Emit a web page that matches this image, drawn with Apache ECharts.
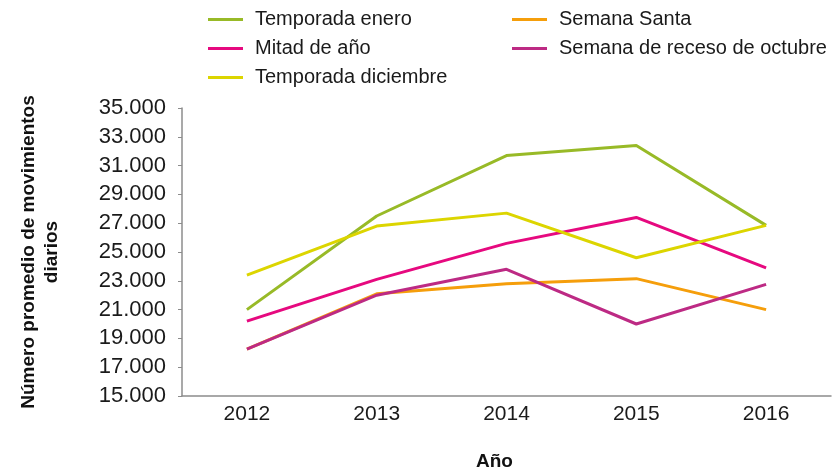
<!DOCTYPE html>
<html>
<head>
<meta charset="utf-8">
<script src="https://cdn.jsdelivr.net/npm/echarts@6/dist/echarts.min.js"></script>
<style>
  html, body { margin: 0; padding: 0; background: #fff; }
  #chart { width: 835px; height: 471px; }
</style>
</head>
<body>
<div id="chart"></div>
<script>
const years = ["2012", "2013", "2014", "2015", "2016"];

const temporadaEnero = [21000, 27500, 31700, 32400, 26850];
const semanaSanta = [18250, 22100, 22800, 23150, 21000];
const mitadDeAno = [20200, 23100, 25600, 27400, 23900];
const recesoOctubre = [18250, 22000, 23800, 20000, 22750];
const temporadaDiciembre = [23400, 26800, 27700, 24600, 26850];

const yMin = 15000;
const yMax = 35000;
const yStep = 2000;

const font = '"Liberation Sans", "DejaVu Sans", sans-serif';

function lineSeries(name, data, color) {
  return {
    type: "line",
    name: name,
    data: data,
    symbol: "none",
    lineStyle: { color: color, width: 3 },
    itemStyle: { color: color },
  };
}

const legendBase = {
  orient: "vertical",
  top: 4,
  icon: "rect",
  itemWidth: 35,
  itemHeight: 3,
  itemGap: 8,
  textStyle: {
    fontSize: 20,
    color: "#1a1a1a",
    lineHeight: 21,
    padding: [0, 0, 0, 7],
  },
};

const chart = echarts.init(document.getElementById("chart"), null, {
  renderer: "canvas",
});

chart.setOption({
  animation: false,
  textStyle: { fontFamily: font },
  grid: {
    left: 182,
    right: 4,
    top: 108,
    bottom: 75,
    outerBoundsMode: "none",
  },
  legend: [
    Object.assign({}, legendBase, {
      left: 203,
      data: ["Temporada enero", "Mitad de año", "Temporada diciembre"],
    }),
    Object.assign({}, legendBase, {
      left: 507,
      data: ["Semana Santa", "Semana de receso de octubre"],
    }),
  ],
  xAxis: {
    type: "category",
    data: years,
    name: "Año",
    nameLocation: "middle",
    nameGap: 56,
    nameTextStyle: {
      fontSize: 19,
      fontWeight: "bold",
      color: "#111",
      padding: [0, 24, 0, 0],
    },
    axisLine: { lineStyle: { color: "#8c8c8c", width: 1.5 } },
    axisTick: { length: 5, lineStyle: { color: "#8c8c8c" } },
    axisLabel: { fontSize: 21, color: "#1a1a1a", margin: 8 },
  },
  yAxis: {
    type: "value",
    min: yMin,
    max: yMax,
    interval: yStep,
    name: "Número promedio de movimientos\ndiarios",
    nameLocation: "middle",
    nameGap: 119,
    nameTextStyle: {
      fontSize: 19,
      fontWeight: "bold",
      color: "#111",
      lineHeight: 23,
      align: "center",
    },
    splitLine: { show: false },
    axisLine: { show: true, lineStyle: { color: "#8c8c8c", width: 1.5 } },
    axisTick: { show: true, length: 4, lineStyle: { color: "#8c8c8c" } },
    axisLabel: {
      fontSize: 22,
      color: "#1a1a1a",
      margin: 16,
      formatter: (v) => v.toLocaleString("de-DE"),
    },
  },
  series: [
    lineSeries("Temporada enero", temporadaEnero, "#98ba27"),
    lineSeries("Semana Santa", semanaSanta, "#f59e0b"),
    lineSeries("Mitad de año", mitadDeAno, "#e6097f"),
    lineSeries("Semana de receso de octubre", recesoOctubre, "#bd2a84"),
    lineSeries("Temporada diciembre", temporadaDiciembre, "#dcd500"),
  ],
});
</script>
</body>
</html>
